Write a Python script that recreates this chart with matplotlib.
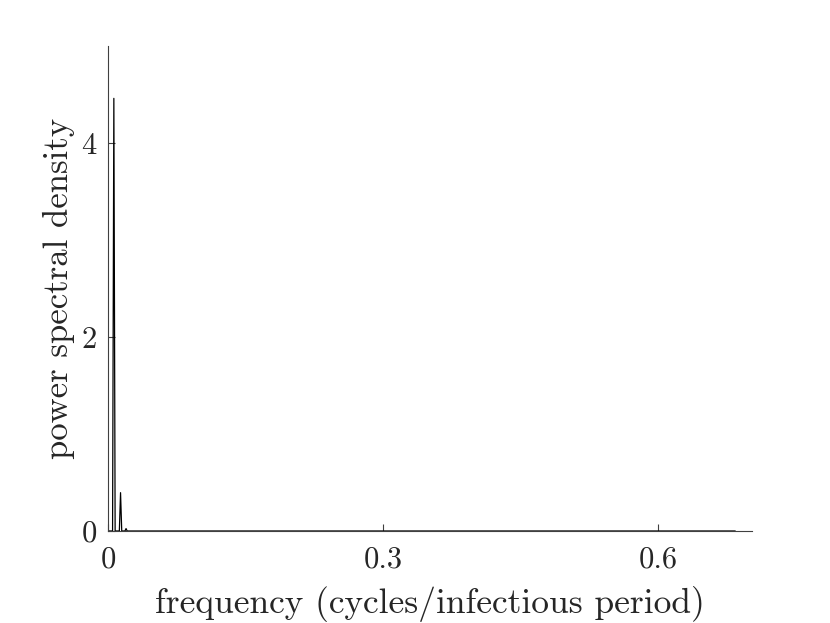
import matplotlib
matplotlib.use("Agg")
import matplotlib.pyplot as plt

plt.rcParams['font.family'] = ['cmr10', 'DejaVu Serif']
plt.rcParams['mathtext.fontset'] = 'cm'
plt.rcParams['axes.formatter.use_mathtext'] = True

# Spectrum (frequency, power spectral density)
freq = [0.0, 0.0050, 0.0064, 0.0078, 0.0124, 0.0137, 0.0150, 0.0185, 0.0197, 0.0209, 0.684]
psd = [0.0, 0.0, 4.46, 0.0, 0.0, 0.395, 0.0, 0.0, 0.025, 0.0, 0.0]

xticks = [0, 0.3, 0.6]
xticklabels = ['0', '0.3', '0.6']
yticks = [0, 2, 4]
yticklabels = ['0', '2', '4']

fig = plt.figure(figsize=(8.30, 6.23), dpi=100)
ax = fig.add_axes([0.1301, 0.1477, 0.7759, 0.7785])
ax.plot(freq, psd, color='black', linewidth=0.9)
ax.set_xlim(0, 0.7025)
ax.set_ylim(0, 5)
ax.set_xticks(xticks)
ax.set_xticklabels(xticklabels)
ax.set_yticks(yticks)
ax.set_yticklabels(yticklabels)
for s in ['top', 'right']:
    ax.spines[s].set_visible(False)
for s in ['left', 'bottom']:
    ax.spines[s].set_color('#404040')
    ax.spines[s].set_linewidth(0.8)
ax.tick_params(direction='in', length=5, width=0.8, colors='#404040', labelsize=22, labelcolor='#262626')
ax.tick_params(axis='x', pad=11)
ax.tick_params(axis='y', pad=8)
ax.set_xlabel('frequency (cycles/infectious period)', fontsize=25.5, color='#262626', labelpad=9)
ax.set_ylabel('power spectral density', fontsize=25, color='#262626', labelpad=5)
fig.savefig('out.png', dpi=100)
